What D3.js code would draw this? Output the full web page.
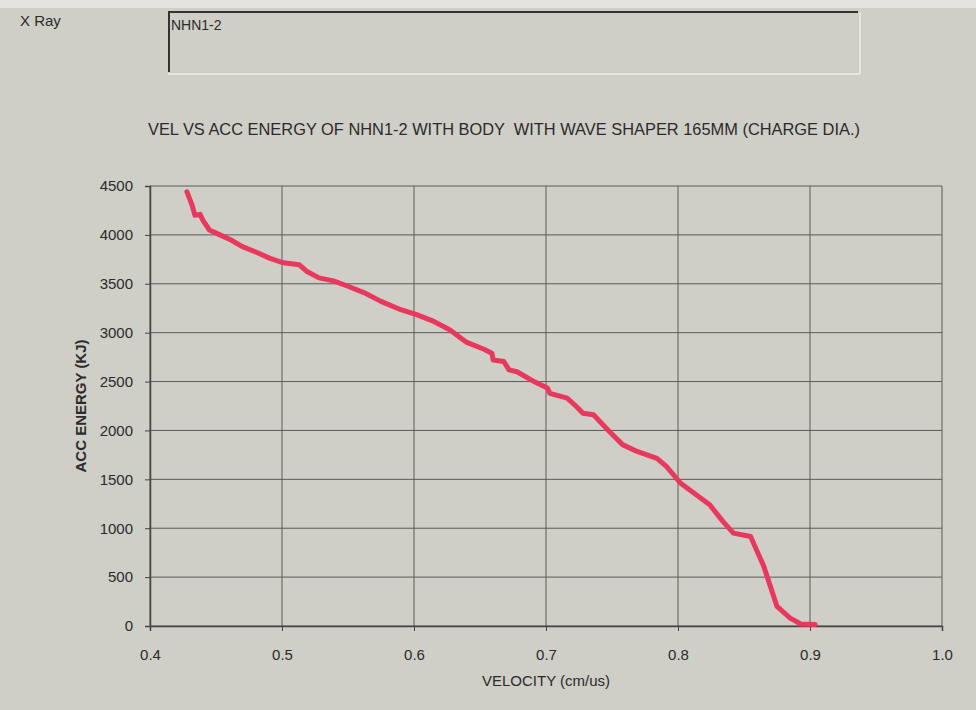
<!DOCTYPE html>
<html>
<head>
<meta charset="utf-8">
<script src="https://cdn.jsdelivr.net/npm/d3@7"></script>
<style>
  body { margin: 0; background: #cfcec7; }
  text { font-family: "Liberation Sans", Arial, sans-serif; fill: #2b2b2b; }
</style>
</head>
<body>
<div id="chart"></div>
<script>
// curve
var velocity = [0.428, 0.432, 0.434, 0.438, 0.440, 0.445, 0.453, 0.461, 0.470, 0.481,
  0.491, 0.501, 0.513, 0.519, 0.528, 0.539, 0.549, 0.562, 0.575, 0.590,
  0.602, 0.615, 0.627, 0.640, 0.653, 0.659, 0.660, 0.668, 0.672, 0.678,
  0.691, 0.701, 0.703, 0.716, 0.723, 0.728, 0.736, 0.741, 0.748, 0.758,
  0.769, 0.784, 0.791, 0.802, 0.812, 0.824, 0.834, 0.842, 0.855, 0.865,
  0.875, 0.885, 0.893, 0.904];
var energy = [4440, 4300, 4200, 4210, 4150, 4050, 4000, 3950, 3880, 3820,
  3760, 3715, 3695, 3625, 3560, 3530, 3480, 3410, 3320, 3235,
  3185, 3115, 3030, 2900, 2830, 2790, 2720, 2705, 2620, 2600,
  2500, 2435, 2380, 2330, 2245, 2175, 2160, 2090, 1990, 1855,
  1785, 1715, 1635, 1460, 1360, 1240, 1070, 950, 915, 610,
  200, 80, 20, 15];
var xTicks = [0.4, 0.5, 0.6, 0.7, 0.8, 0.9, 1.0];
var yTicks = [0, 500, 1000, 1500, 2000, 2500, 3000, 3500, 4000, 4500];

var width = 976;
var height = 710;
// plot box (window.top is reserved, so no "top" here)
var plotLeft = 150, plotRight = 942, plotTop = 186, plotBottom = 626;

var svg = d3.select("#chart").
  append("svg").
  attr("width", width).
  attr("height", height);

svg.append("rect").
  attr("width", width).
  attr("height", height).
  attr("fill", "#cfcec7");

// lighter band at the top of the scan
svg.append("rect").
  attr("width", width).
  attr("height", 8).
  attr("fill", "#e4e3de");

svg.append("text").
  text("X Ray").
  attr("x", 20).
  attr("y", 26).
  attr("font-size", 15);

// header box
svg.append("line").attr("x1", 168).attr("x2", 860).attr("y1", 74).attr("y2", 74).attr("stroke", "#eeeeea").attr("stroke-width", 1.5);
svg.append("line").attr("x1", 860).attr("x2", 860).attr("y1", 12).attr("y2", 74).attr("stroke", "#eeeeea").attr("stroke-width", 1.5);
svg.append("line").attr("x1", 168).attr("x2", 858).attr("y1", 12).attr("y2", 12).attr("stroke", "#333").attr("stroke-width", 2);
svg.append("line").attr("x1", 169).attr("x2", 169).attr("y1", 11).attr("y2", 72).attr("stroke", "#333").attr("stroke-width", 2);

svg.append("text").
  text("NHN1-2").
  attr("x", 171).
  attr("y", 30).
  attr("font-size", 14);

svg.append("text").
  text("VEL VS ACC ENERGY OF NHN1-2 WITH BODY  WITH WAVE SHAPER 165MM (CHARGE DIA.)").
  attr("x", 148).
  attr("y", 135).
  attr("font-size", 16.4).
  style("white-space", "pre");

var x = d3.scaleLinear().domain([0.4, 1.0]).range([plotLeft, plotRight]);
var y = d3.scaleLinear().domain([0, 4500]).range([plotBottom, plotTop]);

// grid
svg.append("g").
  selectAll("line").
  data(yTicks).
  enter().
  append("line").
  attr("x1", plotLeft).
  attr("x2", plotRight).
  attr("y1", function (d) { return y(d); }).
  attr("y2", function (d) { return y(d); }).
  attr("stroke", "#5a5a5a").
  attr("stroke-width", 1);

svg.append("g").
  selectAll("line").
  data(xTicks).
  enter().
  append("line").
  attr("x1", function (d) { return x(d); }).
  attr("x2", function (d) { return x(d); }).
  attr("y1", plotTop).
  attr("y2", plotBottom).
  attr("stroke", "#5a5a5a").
  attr("stroke-width", 1);

var xAxis = d3.axisBottom(x).tickValues(xTicks).tickFormat(d3.format(".1f")).tickSize(5).tickPadding(18);
var yAxis = d3.axisLeft(y).tickValues(yTicks).tickFormat(d3.format("d")).tickSize(5).tickPadding(12);

var gx = svg.append("g").
  attr("transform", "translate(0," + plotBottom + ")").
  call(xAxis);

var gy = svg.append("g").
  attr("transform", "translate(" + plotLeft + ",0)").
  call(yAxis);

[gx, gy].forEach(function (g) {
  g.selectAll("path").attr("stroke", "#444").attr("stroke-width", 1.5);
  g.selectAll("line").attr("stroke", "#444");
  g.selectAll("text").attr("font-size", 15).attr("fill", "#2b2b2b").
    style("font-family", "\"Liberation Sans\", Arial, sans-serif");
});

svg.append("text").
  text("VELOCITY (cm/us)").
  attr("x", (plotLeft + plotRight) / 2).
  attr("y", 686).
  attr("text-anchor", "middle").
  attr("font-size", 15);

svg.append("text").
  text("ACC ENERGY (KJ)").
  attr("transform", "translate(86," + (plotTop + plotBottom) / 2 + ") rotate(-90)").
  attr("text-anchor", "middle").
  attr("font-size", 15).
  attr("font-weight", "bold");

var points = velocity.map(function (v, i) { return [v, energy[i]]; });

var line = d3.line().
  x(function (d) { return x(d[0]); }).
  y(function (d) { return y(d[1]); });

svg.append("path").
  datum(points).
  attr("d", line).
  attr("fill", "none").
  attr("stroke", "#e8385e").
  attr("stroke-width", 5).
  attr("stroke-linejoin", "round").
  attr("stroke-linecap", "round");
</script>
</body>
</html>
